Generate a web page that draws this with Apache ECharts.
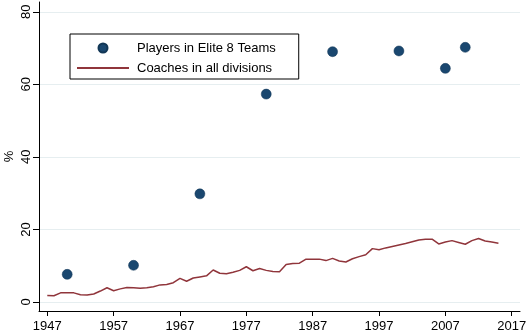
<!DOCTYPE html>
<html>
<head>
<meta charset="utf-8">
<title>Players and coaches</title>
<script src="https://cdn.jsdelivr.net/npm/echarts@6/dist/echarts.min.js"></script>
<style>
  html, body { margin: 0; padding: 0; background: #fff; }
  #chart { width: 529px; height: 334px; }
</style>
</head>
<body>
<div id="chart"></div>
<script>
// players in elite 8 teams (%)
var playerYears = [1950, 1960, 1970, 1980, 1990, 2000, 2007, 2010];
var playerValues = [7.6, 10.1, 29.8, 57.3, 69.0, 69.2, 64.4, 70.2];

// coaches in all divisions (%), one value per year 1947-2015
var coachYears = [
  1947, 1948, 1949, 1950, 1951, 1952, 1953, 1954, 1955, 1956,
  1957, 1958, 1959, 1960, 1961, 1962, 1963, 1964, 1965, 1966,
  1967, 1968, 1969, 1970, 1971, 1972, 1973, 1974, 1975, 1976,
  1977, 1978, 1979, 1980, 1981, 1982, 1983, 1984, 1985, 1986,
  1987, 1988, 1989, 1990, 1991, 1992, 1993, 1994, 1995, 1996,
  1997, 1998, 1999, 2000, 2001, 2002, 2003, 2004, 2005, 2006,
  2007, 2008, 2009, 2010, 2011, 2012, 2013, 2014, 2015
];
var coachValues = [
  1.8, 1.7, 2.5, 2.5, 2.5, 2.0, 1.9, 2.2, 3.0, 3.9,
  3.1, 3.6, 4.0, 3.9, 3.8, 3.9, 4.2, 4.7, 4.8, 5.3,
  6.5, 5.7, 6.6, 6.9, 7.2, 8.8, 7.9, 7.8, 8.2, 8.7,
  9.7, 8.6, 9.2, 8.7, 8.4, 8.3, 10.3, 10.6, 10.7, 11.8,
  11.8, 11.8, 11.4, 12.0, 11.3, 11.0, 11.9, 12.5, 13.0, 14.7,
  14.4, 14.9, 15.3, 15.7, 16.1, 16.6, 17.1, 17.3, 17.3, 16.0,
  16.5, 16.9, 16.4, 15.9, 16.9, 17.5, 16.8, 16.5, 16.2
];

var xTicks = [1947, 1957, 1967, 1977, 1987, 1997, 2007, 2017];
var yTicks = [0, 20, 40, 60, 80];

function pairs(xs, ys) {
  var out = [];
  for (var i = 0; i < xs.length; i++) {
    out.push([xs[i], ys[i]]);
  }
  return out;
}

var chart = echarts.init(document.getElementById('chart'), null, { renderer: 'canvas' });

var font = 'Liberation Sans, Arial, sans-serif';

chart.setOption({
  animation: false,
  backgroundColor: '#fff',
  textStyle: { fontFamily: font },
  // fixed plot box, labels are allowed to sit outside it
  grid: { left: 39, right: 9, top: 2, bottom: 23, outerBoundsMode: 'none', containLabel: false },
  legend: {
    orient: 'vertical',
    left: 70,
    top: 34,
    padding: [7, 23, 4, 6],
    itemWidth: 52,
    itemHeight: 9,
    itemGap: 6,
    backgroundColor: '#fff',
    borderColor: '#000',
    borderWidth: 1,
    borderRadius: 0,
    textStyle: { fontFamily: font, fontSize: 13, color: '#000', lineHeight: 14, padding: [0, 0, 0, 3] },
    data: [
      { name: 'Players in Elite 8 Teams', icon: 'circle' },
      // line only, no dot on it
      { name: 'Coaches in all divisions', itemStyle: { opacity: 0 } }
    ]
  },
  xAxis: {
    type: 'value',
    min: 1945.75,
    max: 2018.25,
    axisLine: { show: true, onZero: false, lineStyle: { color: '#000', width: 1 } },
    axisTick: { show: true, length: 5, customValues: xTicks, lineStyle: { color: '#000' } },
    axisLabel: {
      customValues: xTicks,
      fontSize: 13,
      color: '#000',
      margin: 9,
      formatter: function (value) {
        return String(value);
      }
    },
    splitLine: { show: false }
  },
  yAxis: {
    type: 'value',
    min: -2.5,
    max: 82.7,
    name: '%',
    nameLocation: 'middle',
    nameRotate: 90,
    nameGap: 23,
    nameMoveOverlap: false,
    nameTextStyle: { fontSize: 13, color: '#000' },
    axisLine: { show: true, onZero: false, lineStyle: { color: '#000', width: 1 } },
    axisTick: { show: true, length: 6, customValues: yTicks, lineStyle: { color: '#000' } },
    axisLabel: { customValues: yTicks, rotate: 90, fontSize: 13, color: '#000', margin: 6 },
    splitLine: { show: true, lineStyle: { color: '#e6eef0', width: 1 } }
  },
  series: [
    {
      name: 'Players in Elite 8 Teams',
      type: 'scatter',
      symbol: 'circle',
      symbolSize: 10,
      itemStyle: { color: '#1a476f', opacity: 1, borderColor: '#123756', borderWidth: 0.5 },
      data: pairs(playerYears, playerValues),
      z: 3
    },
    {
      name: 'Coaches in all divisions',
      type: 'line',
      symbol: 'none',
      lineStyle: { color: '#90353b', width: 1.5 },
      itemStyle: { color: '#90353b' },
      data: pairs(coachYears, coachValues),
      z: 2
    }
  ]
});
</script>
</body>
</html>
